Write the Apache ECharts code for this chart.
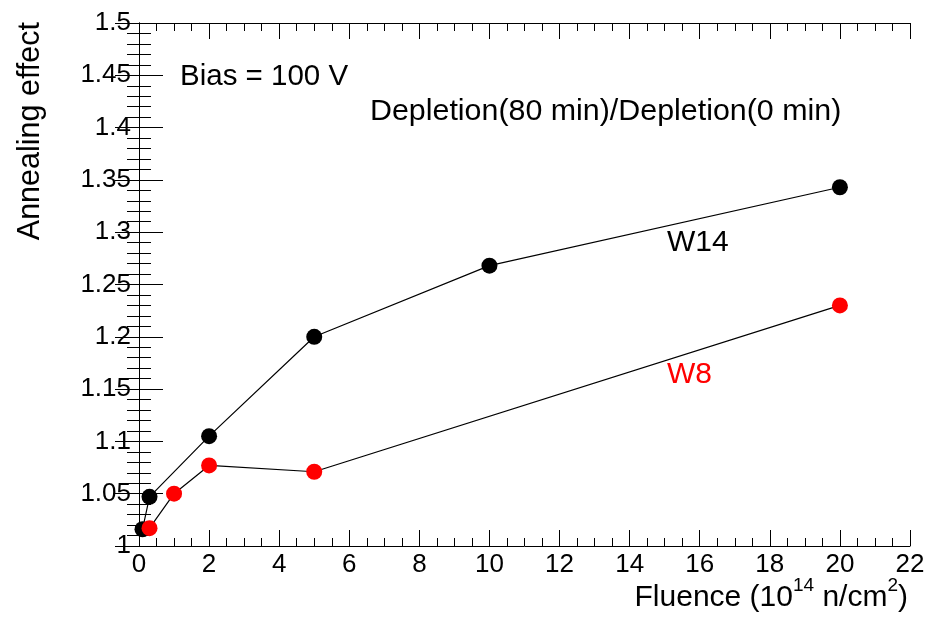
<!DOCTYPE html>
<html>
<head>
<meta charset="utf-8">
<script src="https://cdn.jsdelivr.net/npm/echarts@6/dist/echarts.min.js"></script>
<style>
  html, body { margin: 0; padding: 0; background: #fff; }
  #chart { width: 930px; height: 619px; }
</style>
</head>
<body>
<div id="chart"></div>
<script>
// Fluence in units of 1e14 n/cm^2
const fluenceW14 = [0.1, 0.3, 2, 5, 10, 20];
const annealW14  = [1.016, 1.047, 1.105, 1.200, 1.268, 1.343];
const fluenceW8  = [0.3, 1, 2, 5, 20];
const annealW8   = [1.017, 1.050, 1.077, 1.071, 1.230];

const FONT = '"Liberation Sans", Arial, Helvetica, sans-serif';

function pairs(xs, ys) { return xs.map((x, i) => [x, ys[i]]); }

const axisCommon = {
  axisLine: { show: true, lineStyle: { color: '#000', width: 1 } },
  splitLine: { show: false },
};

// ticks drawn inside the frame on all four sides
const xTicks = {
  axisTick: { show: true, inside: true, length: 16, lineStyle: { color: '#000' } },
  minorTick: { show: true, splitNumber: 4, length: 8, lineStyle: { color: '#000' } },
};
const yTicks = {
  axisTick: { show: true, inside: true, length: 24, lineStyle: { color: '#000' } },
  minorTick: { show: true, splitNumber: 5, length: 12, lineStyle: { color: '#000' } },
};

const chart = echarts.init(document.getElementById('chart'), null, { renderer: 'canvas' });

chart.setOption({
  animation: false,
  backgroundColor: '#fff',
  grid: { left: 139, right: 20, top: 23, bottom: 73 },
  xAxis: [
    Object.assign({
      type: 'value', min: 0, max: 22, interval: 2, position: 'bottom',
      axisLabel: { color: '#000', fontSize: 26, fontFamily: FONT, margin: 6 },
    }, axisCommon, xTicks),
    Object.assign({
      type: 'value', min: 0, max: 22, interval: 2, position: 'top',
      axisLabel: { show: false },
    }, axisCommon, xTicks),
  ],
  yAxis: [
    Object.assign({
      type: 'value', min: 1, max: 1.5, interval: 0.05, position: 'left',
      axisLabel: { color: '#000', fontSize: 26, fontFamily: FONT, margin: 8 },
    }, axisCommon, yTicks),
    Object.assign({
      type: 'value', min: 1, max: 1.5, interval: 0.05, position: 'right',
      axisLabel: { show: false },
    }, axisCommon, yTicks),
  ],
  series: [
    {
      name: 'W14', type: 'line', xAxisIndex: 0, yAxisIndex: 0,
      data: pairs(fluenceW14, annealW14),
      symbol: 'circle', symbolSize: 16,
      itemStyle: { color: '#000' },
      lineStyle: { color: '#000', width: 1.2 },
    },
    {
      name: 'W8', type: 'line', xAxisIndex: 0, yAxisIndex: 0,
      data: pairs(fluenceW8, annealW8),
      symbol: 'circle', symbolSize: 16,
      itemStyle: { color: '#ff0000' },
      lineStyle: { color: '#000', width: 1.2 },
    },
  ],
  graphic: [
    {
      type: 'text', left: 180, top: 62,
      style: { text: 'Bias = 100 V', font: '29.5px ' + FONT, fill: '#000' },
    },
    {
      type: 'text', left: 370, top: 97,
      style: { text: 'Depletion(80 min)/Depletion(0 min)', font: '30.4px ' + FONT, fill: '#000' },
    },
    {
      type: 'text', left: 667, top: 228,
      style: { text: 'W14', font: '30px ' + FONT, fill: '#000' },
    },
    {
      type: 'text', left: 667, top: 360,
      style: { text: 'W8', font: '30px ' + FONT, fill: '#ff0000' },
    },
    {
      // y-axis title, reading upward, right-aligned to the top of the frame
      type: 'text', x: 31, y: 22, rotation: Math.PI / 2,
      style: {
        text: 'Annealing effect', font: '30.5px ' + FONT, fill: '#000',
        align: 'right', verticalAlign: 'middle',
      },
    },
    {
      // x-axis title with superscripts
      type: 'text', x: 908, y: 598,
      style: {
        text: '{m|Fluence (10}{s|14}{m| n/cm}{s|2}{m|)}',
        align: 'right', verticalAlign: 'middle', fill: '#000',
        rich: {
          m: { fontSize: 30, fontFamily: FONT, lineHeight: 44, verticalAlign: 'middle', fill: '#000' },
          s: { fontSize: 19, fontFamily: FONT, lineHeight: 19, verticalAlign: 'top', fill: '#000' },
        },
      },
    },
  ],
});
</script>
</body>
</html>
